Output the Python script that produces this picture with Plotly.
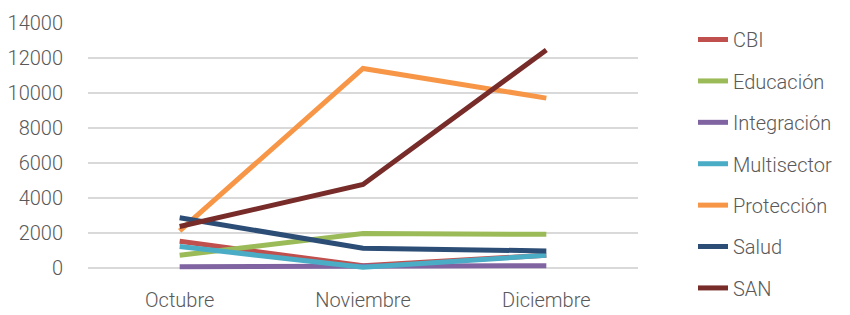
import plotly.graph_objects as go

categories = ["Octubre", "Noviembre", "Diciembre"]
series_names = ["CBI", "Educación", "Integración", "Multisector", "Protección", "Salud", "SAN"]
cbi = [1500, 100, 700]
educacion = [700, 1950, 1900]
integracion = [50, 100, 100]
multisector = [1200, 20, 700]
proteccion = [2100, 11400, 9700]
salud = [2850, 1100, 950]
san = [2350, 4750, 12450]
y_ticks = [0, 2000, 4000, 6000, 8000, 10000, 12000, 14000]
y_labels = [str(v) for v in y_ticks]

colors = ["#c0504d", "#9bbb59", "#8064a2", "#4bacc6", "#f79646", "#2c4d75", "#772c2a"]
values = [cbi, educacion, integracion, multisector, proteccion, salud, san]

fig = go.Figure()
for name, vals, col in zip(series_names, values, colors):
    fig.add_trace(go.Scatter(x=categories, y=vals, name=name, mode="lines",
                             line=dict(color=col, width=5), legendgroup=name))

font_family = "Roboto, 'Noto Sans', sans-serif"
tf = dict(size=20, color="#595959", family=font_family, weight=300)
fig.update_layout(
    width=850, height=315,
    margin=dict(l=80, r=220, t=15, b=51.5, autoexpand=False),
    paper_bgcolor="white", plot_bgcolor="white",
    font=dict(family=font_family, color="#595959", size=20),
    showlegend=True,
    legend=dict(x=1.1, y=1.012, xanchor="left", yanchor="top",
                font=tf, tracegroupgap=12.4, maxheight=320,
                bgcolor="rgba(0,0,0,0)"),
    xaxis=dict(range=[-0.5, 2.5], showgrid=False, showline=False, zeroline=False, ticks="",
               ticklabelstandoff=15, tickfont=tf),
    yaxis=dict(range=[-200, 14000], tickvals=y_ticks, ticktext=y_labels, showgrid=True,
               gridcolor="#d9d9d9", gridwidth=1.5, zeroline=False, showline=False, ticks="",
               ticklabelstandoff=24, tickfont=tf),
)
fig.write_html("out.html")
